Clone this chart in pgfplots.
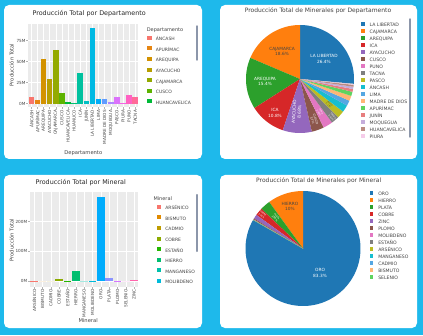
\documentclass[border=0pt]{standalone}
\usepackage{fontspec}
\setmainfont{DejaVu Sans}
\usepackage{pgfplots}
\pgfplotsset{compat=1.18}

% hue palette, 18 departamentos
\definecolor{d01}{HTML}{F8766D}\definecolor{d02}{HTML}{E68613}
\definecolor{d03}{HTML}{D39200}\definecolor{d04}{HTML}{B79F00}
\definecolor{d05}{HTML}{93AA00}\definecolor{d06}{HTML}{5EB300}
\definecolor{d07}{HTML}{00BA38}\definecolor{d08}{HTML}{00BF74}
\definecolor{d09}{HTML}{00C19F}\definecolor{d10}{HTML}{00BFC4}
\definecolor{d11}{HTML}{00B9E3}\definecolor{d12}{HTML}{00ADFA}
\definecolor{d13}{HTML}{619CFF}\definecolor{d14}{HTML}{AE87FF}
\definecolor{d15}{HTML}{DB72FB}\definecolor{d16}{HTML}{F564E3}
\definecolor{d17}{HTML}{FF61C3}\definecolor{d18}{HTML}{FF6A98}
% hue palette, 13 minerales
\definecolor{m01}{HTML}{F8766D}\definecolor{m02}{HTML}{E18A00}
\definecolor{m03}{HTML}{BE9C00}\definecolor{m04}{HTML}{8CAB00}
\definecolor{m05}{HTML}{24B700}\definecolor{m06}{HTML}{00BE70}
\definecolor{m07}{HTML}{00C1AB}\definecolor{m08}{HTML}{00BBDA}
\definecolor{m09}{HTML}{00ACFC}\definecolor{m10}{HTML}{8B93FF}
\definecolor{m11}{HTML}{D575FE}\definecolor{m12}{HTML}{F962DD}
\definecolor{m13}{HTML}{FF65AC}
% pie colours
\definecolor{p01}{HTML}{1F77B4}\definecolor{p02}{HTML}{FF7F0E}
\definecolor{p03}{HTML}{2CA02C}\definecolor{p04}{HTML}{D62728}
\definecolor{p05}{HTML}{9467BD}\definecolor{p06}{HTML}{8C564B}
\definecolor{p07}{HTML}{E377C2}\definecolor{p08}{HTML}{7F7F7F}
\definecolor{p09}{HTML}{BCBD22}\definecolor{p10}{HTML}{17BECF}
\definecolor{p11}{HTML}{55A7E2}\definecolor{p12}{HTML}{FFB675}
\definecolor{p13}{HTML}{5FD35F}\definecolor{p14}{HTML}{E77E7E}
\definecolor{p15}{HTML}{C5ADDB}\definecolor{p16}{HTML}{BB8B81}
\definecolor{p17}{HTML}{F5CCE9}\definecolor{p18}{HTML}{B3B3B3}
\definecolor{bgcyan}{RGB}{30,185,235}
\definecolor{txt}{RGB}{68,68,68}
\definecolor{scroll}{RGB}{140,150,170}

\tikzset{plab/.style={align=center, inner sep=0pt, font=\fontsize{4.3}{5.4}\selectfont}}

\pgfplotsset{
  barax/.style={
    scale only axis, anchor=south west,
    axis background/.style={fill=gray!16},
    axis line style={draw=none},
    grid=major, grid style={white, line width=0.6pt},
    tick pos=left, tick align=outside, major tick length=2pt,
    tick style={gray!60, line width=0.4pt},
    /pgf/number format/assume math mode=true,
    ticklabel style={font=\fontsize{4.2}{4.2}\selectfont, text=gray!55!black},
    yticklabel style={inner sep=0.6pt},
    xticklabel style={rotate=90, anchor=east, inner sep=0.6pt},
    label style={font=\fontsize{5.2}{5.2}\selectfont, text=txt},
    yticklabel={\pgfmathprintnumber{\tick}M},
    legend cell align=left,
    legend style={draw=none, fill=none, inner sep=0pt, row sep=5.0pt,
      column sep=4.2pt, font=\fontsize{4.5}{4.5}\selectfont, text=txt,
      nodes={inner sep=0pt, text height=3.4pt, text depth=0.6pt},
      anchor=north west},
  },
  colbar/.style={ybar, bar shift=0pt, bar width=0.9, draw=none,
    legend image code/.code={\fill[##1] (0pt,-0.4pt) rectangle (4.2pt,3.6pt);}},
  pieax/.style={
    scale only axis, anchor=south west,
    xmin=-1, xmax=1, ymin=-1, ymax=1, hide axis, clip=false,
    legend cell align=left,
    legend style={draw=none, fill=none, inner sep=0pt, row sep=1.6pt,
      column sep=5pt, font=\fontsize{4.6}{4.6}\selectfont, text=txt,
      nodes={inner sep=0pt, text height=3.4pt, text depth=0.6pt},
      anchor=north west},
    legend image code/.code={\fill[##1] (0pt,-0.4pt) rectangle (3.8pt,3.4pt);},
  },
}

% pie: slices counterclockwise, first slice ends at 12 o'clock
\newcommand\drawpie[2]{%
  \gdef\pietot{0}%
  \foreach \v/\c/\n [count=\i] in #1 {%
    \ifnum\i=1 \xdef\firstv{\v}\fi
    \pgfmathsetmacro\t{\pietot+\v}\xdef\pietot{\t}}%
  \pgfmathsetmacro\t{90-\firstv/\pietot*360}\xdef\piecum{\t}%
  \foreach \v/\c/\n [count=\i] in #1 {%
    \pgfmathsetmacro\a{\piecum}%
    \pgfmathsetmacro\b{\piecum+\v/\pietot*360}%
    \xdef\piecum{\b}%
    \pgfmathsetmacro\s{int(max(3,(\b-\a)/2))}%
    \edef\tmp{\noexpand\addplot[fill=\c, draw=none, domain=\a:\b, samples=\s]
      ({cos(x)},{sin(x)}) -- (axis cs:0,0) -- cycle;}\tmp
    \ifnum\i>#2 \else\edef\tmp{\noexpand\addlegendentry{\n}}\tmp\fi
  }%
}

\def\deptpie{90.0/p01/LA LIBERTAD, 63.4/p02/CAJAMARCA, 52.5/p03/AREQUIPA,
  36.8/p04/ICA, 29.6/p05/AYACUCHO, 12.6/p06/CUSCO, 9.8/p07/PUNO,
  8.2/p08/TACNA, 7.4/p09/PASCO, 7.2/p10/ÁNCASH, 5.5/p11/LIMA,
  5.1/p12/MADRE DE DIOS, 4.3/p13/APURÍMAC, 2.9/p14/JUNÍN,
  2.3/p15/MOQUEGUA, 2.0/p16/HUANCAVELICA, 0.7/p17/PIURA, 0.3/p18/HUANUCO}
\def\minpie{283.0/p01/ORO, 34.0/p02/HIERRO, 9.8/p03/PLATA, 7.4/p04/COBRE,
  4.0/p05/ZINC, 1.0/p06/PLOMO, 0.3/p07/MOLIBDENO, 0.15/p08/ESTAÑO,
  0.08/p09/ARSÉNICO, 0.05/p10/MANGANESO, 0.03/p11/CADMIO,
  0.02/p12/BISMUTO, 0.01/p13/SELENIO}

\begin{document}
\begin{tikzpicture}[x=1pt,y=1pt]
\useasboundingbox (0,0) rectangle (423,335);
\fill[bgcyan] (0,0) rectangle (423,335);
\fill[white, rounded corners=5pt] (4,176) rectangle (202,330);
\fill[white, rounded corners=5pt] (220,176) rectangle (417,330);
\fill[white, rounded corners=5pt] (4,7) rectangle (202,160);
\fill[white, rounded corners=5pt] (220,7) rectangle (417,160);

% ---- Producción Total por Departamento
\begin{axis}[barax, at={(28.3pt,227.7pt)}, width=110pt, height=83.3pt,
  xmin=-0.5, xmax=17.5, ymin=-4.5, ymax=94.7,
  xtick={0,...,17}, ytick={0,25,50,75},
  xticklabels={ÁNCASH,APURÍMAC,AREQUIPA,AYACUCHO,CAJAMARCA,CUSCO,HUANCAVELICA,
    HUANUCO,ICA,JUNÍN,LA LIBERTAD,LIMA,MADRE DE DIOS,MOQUEGUA,PASCO,PIURA,PUNO,TACNA},
  xlabel={Departamento}, ylabel={Producción Total},
  xlabel style={at={(axis description cs:0.5,-0.549)}, anchor=center},
  ylabel style={at={(axis description cs:-0.151,0.508)}, anchor=center},
  legend style={at={(axis description cs:1.0818,0.8615)}}]
\addplot[colbar, fill=d01] coordinates {(0,7.2)};  \addlegendentry{ÁNCASH}
\addplot[colbar, fill=d02] coordinates {(1,4.3)};  \addlegendentry{APURÍMAC}
\addplot[colbar, fill=d03] coordinates {(2,52.5)}; \addlegendentry{AREQUIPA}
\addplot[colbar, fill=d04] coordinates {(3,29.6)}; \addlegendentry{AYACUCHO}
\addplot[colbar, fill=d05] coordinates {(4,63.4)}; \addlegendentry{CAJAMARCA}
\addplot[colbar, fill=d06] coordinates {(5,12.6)}; \addlegendentry{CUSCO}
\addplot[colbar, fill=d07] coordinates {(6,2.0)};  \addlegendentry{HUANCAVELICA}
\addplot[colbar, fill=d08] coordinates {(7,0.3)};
\addplot[colbar, fill=d09] coordinates {(8,36.8)};
\addplot[colbar, fill=d10] coordinates {(9,2.9)};
\addplot[colbar, fill=d11] coordinates {(10,90.0)};
\addplot[colbar, fill=d12] coordinates {(11,5.5)};
\addplot[colbar, fill=d13] coordinates {(12,5.1)};
\addplot[colbar, fill=d14] coordinates {(13,2.3)};
\addplot[colbar, fill=d15] coordinates {(14,7.4)};
\addplot[colbar, fill=d16] coordinates {(15,0.7)};
\addplot[colbar, fill=d17] coordinates {(16,9.8)};
\addplot[colbar, fill=d18] coordinates {(17,8.2)};
\end{axis}
\node[anchor=west, font=\fontsize{6.4}{6.4}\selectfont, text=black!85] at (29,321) {Producción Total por Departamento};
\node[anchor=west, font=\fontsize{5}{5}\selectfont, text=txt] at (143.3,305) {Departamento};
\draw[scroll, line width=1.4pt, line cap=round] (197,309) -- (197,275);

% ---- Producción Total por Mineral
\begin{axis}[barax, at={(30pt,48.3pt)}, width=108.3pt, height=95pt,
  xmin=-0.5, xmax=12.5, ymin=-18, ymax=300,
  xtick={0,...,12}, ytick={0,100,200},
  xticklabels={ARSÉNICO,BISMUTO,CADMIO,COBRE,ESTAÑO,HIERRO,MANGANESO,
    MOLIBDENO,ORO,PLATA,PLOMO,SELENIO,ZINC},
  xlabel={Mineral}, ylabel={Producción Total},
  xlabel style={at={(axis description cs:0.537,-0.361)}, anchor=center},
  ylabel style={at={(axis description cs:-0.169,0.49)}, anchor=center},
  legend style={at={(axis description cs:1.17,0.865)}}]
\addplot[colbar, fill=m01] coordinates {(0,0.08)}; \addlegendentry{ARSÉNICO}
\addplot[colbar, fill=m02] coordinates {(1,0.02)}; \addlegendentry{BISMUTO}
\addplot[colbar, fill=m03] coordinates {(2,0.03)}; \addlegendentry{CADMIO}
\addplot[colbar, fill=m04] coordinates {(3,7.4)};  \addlegendentry{COBRE}
\addplot[colbar, fill=m05] coordinates {(4,0.15)}; \addlegendentry{ESTAÑO}
\addplot[colbar, fill=m06] coordinates {(5,34.0)}; \addlegendentry{HIERRO}
\addplot[colbar, fill=m07] coordinates {(6,0.05)}; \addlegendentry{MANGANESO}
\addplot[colbar, fill=m08] coordinates {(7,0.3)};  \addlegendentry{MOLIBDENO}
\addplot[colbar, fill=m09] coordinates {(8,283.0)};
\addplot[colbar, fill=m10] coordinates {(9,9.8)};
\addplot[colbar, fill=m11] coordinates {(10,1.0)};
\addplot[colbar, fill=m12] coordinates {(11,0.01)};
\addplot[colbar, fill=m13] coordinates {(12,4.0)};
\end{axis}
\node[anchor=west, font=\fontsize{6.4}{6.4}\selectfont, text=black!85] at (32,152) {Producción Total por Mineral};
\node[anchor=west, font=\fontsize{5}{5}\selectfont, text=txt] at (150,136) {Mineral};
\draw[scroll, line width=1.4pt, line cap=round] (197,140.3) -- (197,83.7);

% ---- Producción Total de Minerales por Departamento
\begin{axis}[pieax, at={(246pt,202pt)}, width=108pt, height=108pt,
  legend style={at={(axis description cs:1.062,1.032)}}]
\drawpie{\deptpie}{17}
\node[plab, text=white] at (axis cs:0.444,0.374) {LA LIBERTAD\\26.4\%};
\node[plab, text=txt] at (axis cs:-0.333,0.515) {CAJAMARCA\\18.6\%};
\node[plab, text=white] at (axis cs:-0.648,-0.05) {AREQUIPA\\15.4\%};
\node[plab, text=white] at (axis cs:-0.463,-0.626) {ICA\\10.8\%};
\node[plab, text=white, rotate=87] at (axis cs:-0.061,-0.606) {AYACUCHO\\8.68\%};
\node[plab, text=white, rotate=-71, font=\fontsize{3}{3.6}\selectfont] at (axis cs:0.26,-0.756) {CUSCO\\3.7\%};
\node[plab, text=white, rotate=-59, font=\fontsize{2.2}{2.6}\selectfont] at (axis cs:0.371,-0.617) {PUNO\\2.88\%};
\node[plab, text=white, rotate=-50, font=\fontsize{2.2}{2.6}\selectfont] at (axis cs:0.597,-0.70) {TACNA\\2.41\%};
\node[plab, text=txt, rotate=-41, font=\fontsize{2}{2.4}\selectfont] at (axis cs:0.542,-0.474) {PASCO\\2.17\%};
\end{axis}
\node[font=\fontsize{6}{6}\selectfont, text=txt] at (318,324) {Producción Total de Minerales por Departamento};
\draw[scroll, line width=1.4pt, line cap=round] (410,316) -- (410,198);

% ---- Producción Total de Minerales por Mineral
\begin{axis}[pieax, at={(245.5pt,29pt)}, width=115pt, height=115pt,
  legend style={at={(axis description cs:1.0765,1.004)}}]
\drawpie{\minpie}{13}
\node[plab, text=white] at (axis cs:0.296,-0.426) {ORO\\83.3\%};
\node[plab, text=txt] at (axis cs:-0.226,0.736) {HIERRO\\10\%};
\node[plab, text=white, rotate=-49, font=\fontsize{2.4}{2.9}\selectfont] at (axis cs:-0.474,0.541) {PLATA\\2.88\%};
\node[plab, text=white, rotate=-40, font=\fontsize{2.2}{2.6}\selectfont] at (axis cs:-0.708,0.588) {COBRE\\2.18\%};
\end{axis}
\node[font=\fontsize{6}{6}\selectfont, text=txt] at (318.7,154.3) {Producción Total de Minerales por Mineral};
\end{tikzpicture}
\end{document}
